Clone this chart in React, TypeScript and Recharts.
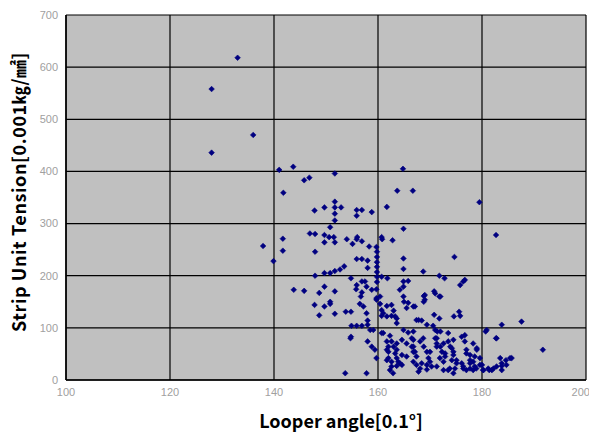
import { ScatterChart, Scatter, XAxis, YAxis, CartesianGrid } from "recharts";

// looper angle [0.1°] vs strip unit tension [0.001 kg/mm²]
const highPoints: [number, number][] = [
  [128, 558], [133, 618], [128, 436], [136, 470], [141, 403], [143.7, 409],
  [145.8, 383], [146.8, 388], [151.7, 396], [141.8, 359], [164.8, 405],
  [163.7, 363], [166.7, 363], [179.5, 341], [161.7, 332], [147.8, 325],
  [149.7, 331], [151.7, 342], [151.7, 331], [152.9, 331], [151.7, 319],
  [151.7, 306], [155.9, 326], [156.9, 326], [158.8, 322], [155.9, 315],
  [150.8, 293], [164.9, 290], [182.7, 278],
];

const leftPoints: [number, number][] = [
  [137.9, 257], [141.7, 271], [141.7, 248], [139.9, 228], [143.8, 173],
  [145.8, 171], [148.7, 167], [147.9, 280], [146.9, 281], [147.9, 246],
  [147.9, 200],
];

const midPoints: [number, number][] = [
  [149.7, 278], [150.6, 274], [151.5, 274], [149.7, 264], [151.7, 264],
  [154, 270], [155.1, 261], [155.9, 270], [156, 274], [156.9, 266],
  [158.3, 256], [159.7, 255], [160.7, 274], [160.8, 270], [162.8, 268],
  [159.8, 246], [159.8, 236], [159.8, 226], [159.8, 217], [159.8, 207],
  [159.8, 198], [159.8, 188], [155.9, 232], [156.9, 232], [158, 229],
  [164.9, 233], [164.9, 213], [158, 215], [168.7, 208], [171.8, 200],
  [172.8, 195], [176.7, 192], [174.7, 236], [149.7, 205], [150.8, 205],
  [151.7, 209], [152.7, 212], [153.5, 218], [154.8, 195], [156.9, 189],
  [157.5, 189], [160.7, 198], [161.8, 195], [164.9, 189], [165.8, 190],
  [164.9, 179], [164.2, 173], [149.7, 179], [151.7, 170], [155.8, 174],
  [156.9, 168], [156.7, 160], [159.7, 174], [159.7, 157], [168.8, 161],
  [168.8, 150], [170.8, 170], [171.8, 160], [147.8, 144], [149.7, 141],
  [150.8, 150], [150.8, 146], [148.7, 124], [151.7, 127], [153.8, 131],
  [154.8, 131], [156.5, 146], [157.2, 141], [157.8, 128], [158, 114],
  [156.9, 104], [159.7, 154], [160.4, 146], [160.7, 134], [161.7, 142],
  [162.6, 144], [163, 133], [164.9, 160], [165, 150], [165.8, 148],
  [165.5, 138], [167.1, 141], [170.8, 125], [171.8, 118], [174.6, 122],
  [175.6, 131], [175.8, 123], [160.7, 123], [161.7, 122], [162.6, 123],
  [163.6, 118], [163.6, 109], [167.4, 115], [168.4, 114], [169.4, 106],
  [170.6, 104], [171.4, 93], [154.9, 104], [155.9, 104], [158, 106],
  [158.5, 96], [159.1, 96], [155.9, 182], [157.8, 179], [158.8, 173],
  [160.4, 160], [161, 128], [163.3, 122], [166.8, 141], [167.8, 115],
  [169, 163], [169, 154], [171, 166], [172, 160], [171, 96], [172, 93],
  [176.7, 86], [175.8, 182], [176.4, 189],
];

const lowPoints: [number, number][] = [
  [154.8, 83], [158, 74], [159.4, 58], [159.7, 42], [161, 90], [162.3, 85],
  [161.7, 74], [164.9, 96], [165.8, 91], [166.8, 93], [166.5, 80],
  [165.5, 70], [163, 64], [163.3, 51], [163.6, 42], [164.2, 32], [166.8, 77],
  [166.8, 64], [166.8, 54], [167.4, 45], [168.4, 32], [169.4, 29],
  [168.7, 80], [168.8, 64], [170, 54], [169.7, 42], [171.3, 80], [171.3, 64],
  [172.6, 70], [172.9, 51], [171.9, 42], [171.3, 26], [173.5, 90],
  [174.5, 77], [174.2, 61], [174.5, 48], [175.1, 38], [173.8, 22],
  [176.1, 83], [176.7, 74], [177, 58], [177.7, 48], [177.7, 32], [176.4, 26],
  [177, 19], [178.3, 70], [179, 58], [179.6, 42], [179.6, 29], [178.6, 26],
  [180.2, 19], [180.7, 93], [182.7, 80], [181.4, 19], [182.2, 22],
  [183.5, 42], [183.8, 27], [184.6, 38], [185.4, 42], [184.7, 29],
  [183.8, 19], [183.8, 106], [187.6, 112], [191.7, 58], [153.7, 13],
  [157.8, 13], [162.3, 19], [162.6, 26], [163.6, 27], [167.8, 16],
  [169.4, 20], [172.6, 19], [173.5, 19], [161.7, 58], [161.7, 38],
  [154.7, 80], [158.8, 64], [160.7, 90], [162, 64], [162, 54], [162, 42],
  [162.6, 35], [162.6, 74], [163.6, 70], [164.6, 77], [163.6, 58],
  [164.6, 48], [165.5, 45], [163.9, 35], [164.6, 29], [162.9, 13],
  [166.5, 64], [167.1, 54], [166.8, 35], [167.4, 29], [168.1, 22],
  [168.1, 74], [169.4, 54], [170, 35], [170.3, 26], [171, 80], [171.3, 70],
  [172, 64], [172.3, 54], [172.9, 45], [172.6, 35], [173.5, 74], [173.9, 64],
  [174.5, 54], [174.2, 38], [175.1, 32], [174.8, 22], [174.5, 13],
  [176.1, 32], [176.4, 22], [177.7, 22], [178.3, 19], [178.9, 22],
  [177, 51], [177.7, 38], [178.6, 45], [178.3, 35], [179, 61], [180, 29],
  [180.3, 19], [181.2, 22], [181.9, 19], [182.8, 26], [180.9, 96],
  [182.8, 80], [185.7, 42], [183.8, 32],
];

const xTicks = [100, 120, 140, 160, 180, 200];
const yTicks = [0, 100, 200, 300, 400, 500, 600, 700];

const data = [...highPoints, ...leftPoints, ...midPoints, ...lowPoints].map(
  ([angle, tension]) => ({ angle, tension })
);

const tickStyle = { fontSize: 11, fill: "#a0a0a0", fontFamily: "Liberation Sans, Arial, sans-serif" };

// small diamond marker like the Excel default
const Diamond = (props: any) => {
  const { cx, cy } = props;
  const r = 2.8;
  return (
    <polygon
      points={`${cx},${cy - r} ${cx + r},${cy} ${cx},${cy + r} ${cx - r},${cy}`}
      fill="#000080"
      stroke="#000080"
      strokeWidth={0.6}
    />
  );
};

export default function App() {
  return (
    <div style={{ position: "absolute", left: 0, top: 0, width: 589, height: 432, background: "#fff" }}>
      <ScatterChart
        width={589}
        height={432}
        margin={{ top: 15, right: 3, bottom: 22, left: 0 }}
      >
        <CartesianGrid fill="#c0c0c0" stroke="#000" strokeWidth={1.2} fillOpacity={1} />
        <XAxis
          type="number"
          dataKey="angle"
          domain={[100, 200]}
          ticks={xTicks}
          height={30}
          tickLine={false}
          axisLine={{ stroke: "#000", strokeWidth: 1.5 }}
          tick={tickStyle}
        />
        <YAxis
          type="number"
          dataKey="tension"
          domain={[0, 700]}
          ticks={yTicks}
          width={66}
          tickLine={false}
          axisLine={{ stroke: "#000", strokeWidth: 1.5 }}
          tick={tickStyle}
        />
        <Scatter data={data} shape={<Diamond />} isAnimationActive={false} />
      </ScatterChart>
      <div
        style={{
          position: "absolute",
          left: 341,
          top: 420,
          transform: "translate(-50%, -50%)",
          fontFamily: "Noto Sans CJK KR, Noto Sans, sans-serif",
          fontWeight: 700,
          fontSize: 18,
          whiteSpace: "nowrap",
        }}
      >
        Looper angle[0.1°]
      </div>
      <div
        style={{
          position: "absolute",
          left: 18,
          top: 192,
          transform: "translate(-50%, -50%) rotate(-90deg)",
          fontFamily: "Noto Sans CJK KR, Noto Sans, sans-serif",
          fontWeight: 700,
          fontSize: 18,
          letterSpacing: 0.6,
          whiteSpace: "nowrap",
        }}
      >
        Strip Unit Tension[0.001㎏/㎟]
      </div>
    </div>
  );
}
